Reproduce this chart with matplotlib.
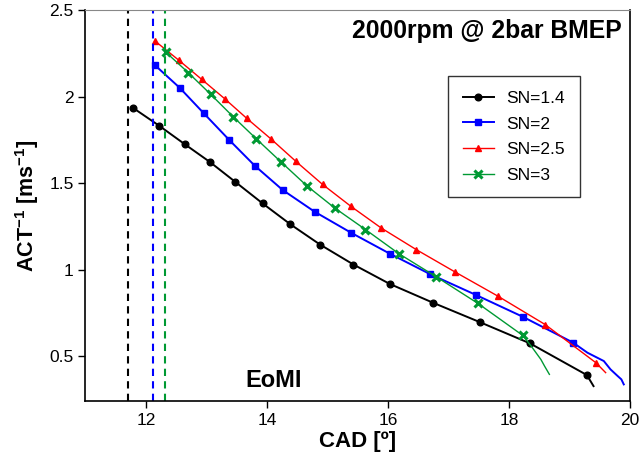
import matplotlib
matplotlib.use("Agg")
import matplotlib.pyplot as plt
import numpy as np

# data (CAD [deg], ACT^-1 [ms^-1])
sn14_x = [11.78, 12.22, 12.64, 13.06, 13.48, 13.93, 14.39, 14.88, 15.43, 16.03, 16.74, 17.52, 18.35, 19.29]
sn14_y = [1.936, 1.831, 1.725, 1.621, 1.506, 1.382, 1.261, 1.144, 1.029, 0.917, 0.809, 0.696, 0.573, 0.390]
sn14_tail_x = [19.35, 19.40]
sn14_tail_y = [0.355, 0.326]

sn2_x = [12.15, 12.56, 12.96, 13.38, 13.80, 14.26, 14.79, 15.39, 16.03, 16.70, 17.45, 18.23, 19.06]
sn2_y = [2.181, 2.050, 1.902, 1.748, 1.600, 1.460, 1.334, 1.213, 1.092, 0.973, 0.854, 0.727, 0.578]
sn2_tail_x = [19.30, 19.57, 19.68, 19.80, 19.86, 19.90]
sn2_tail_y = [0.519, 0.471, 0.423, 0.384, 0.365, 0.336]

sn25_x = [12.15, 12.54, 12.92, 13.30, 13.67, 14.07, 14.48, 14.92, 15.39, 15.89, 16.47, 17.11, 17.82, 18.60, 19.44]
sn25_y = [2.321, 2.211, 2.100, 1.988, 1.873, 1.754, 1.625, 1.492, 1.365, 1.240, 1.115, 0.986, 0.846, 0.682, 0.461]
sn25_tail_x = [19.60]
sn25_tail_y = [0.404]

sn3_x = [12.33, 12.70, 13.07, 13.44, 13.82, 14.23, 14.66, 15.12, 15.63, 16.18, 16.80, 17.49, 18.23]
sn3_y = [2.256, 2.138, 2.013, 1.884, 1.757, 1.623, 1.484, 1.356, 1.231, 1.092, 0.958, 0.804, 0.619]
sn3_tail_x = [18.37, 18.53, 18.59, 18.67]
sn3_tail_y = [0.557, 0.480, 0.442, 0.394]

# end of mixture injection (EoMI) per SN
eomi_x = [11.71, 12.11, 12.32]
eomi_colors = ["black", "#0000ff", "#009933"]

plt.rcParams["font.family"] = ["Liberation Sans", "DejaVu Sans"]
plt.rcParams["mathtext.fontset"] = "custom"
plt.rcParams["mathtext.rm"] = "Liberation Sans"
plt.rcParams["mathtext.bf"] = "Liberation Sans:bold"

fig = plt.figure(figsize=(6.44, 4.70), dpi=100)
ax = fig.add_axes([0.1326, 0.1468, 0.978 - 0.1326, 0.9787 - 0.1468])

series = [
    (sn14_x, sn14_y, sn14_tail_x, sn14_tail_y, "black", "o", 4.8, 1.4, "SN=1.4"),
    (sn2_x, sn2_y, sn2_tail_x, sn2_tail_y, "#0000ff", "s", 4.5, 1.4, "SN=2"),
    (sn25_x, sn25_y, sn25_tail_x, sn25_tail_y, "#ff0000", "^", 5, 1.0, "SN=2.5"),
    (sn3_x, sn3_y, sn3_tail_x, sn3_tail_y, "#009933", "x", 6, 1.0, "SN=3"),
]

for xs, ys, tx, ty, col, mk, ms, lw, lab in series:
    ax.plot(list(xs) + list(tx), list(ys) + list(ty), color=col, lw=lw,
            marker=mk, ms=ms, mew=2.2 if mk == "x" else 1,
            markevery=list(range(len(xs))), label=lab)

for xv, col in zip(eomi_x, eomi_colors):
    ax.axvline(xv, color=col, lw=1.5, ls=(0, (3.5, 2.5)))

ax.set_xlim(11, 20)
ax.set_ylim(0.24, 2.5)
ax.set_xticks([12, 14, 16, 18, 20])
ax.set_xticklabels(["12", "14", "16", "18", "20"])
ax.set_yticks([0.5, 1, 1.5, 2, 2.5])
ax.set_yticklabels(["0.5", "1", "1.5", "2", "2.5"])
ax.tick_params(direction="out", length=5, width=1, labelsize=12.5, top=False, right=False)

ax.spines["top"].set_color("#888888")
for s in ["left", "bottom", "right"]:
    ax.spines[s].set_color("black")
    ax.spines[s].set_linewidth(1.2)

ax.set_xlabel("CAD [º]", fontsize=16, fontweight="bold", labelpad=2)
ax.set_ylabel(r"ACT$^{\mathbf{-1}}$ [ms$^{\mathbf{-1}}$]", fontsize=15.5,
              fontweight="bold", labelpad=6)

ax.text(0.985, 0.928, "2000rpm @ 2bar BMEP", transform=ax.transAxes,
        ha="right", va="baseline", fontsize=17.8, fontweight="bold")
ax.text(14.11, 0.319, "EoMI", ha="center", va="baseline", fontsize=17, fontweight="bold")

leg = ax.legend(loc="upper left", bbox_to_anchor=(0.666, 0.831), borderaxespad=0,
                fontsize=12.5, frameon=True, fancybox=False, edgecolor="black",
                handlelength=1.8, handletextpad=0.7, labelspacing=0.6, borderpad=0.85)
leg.get_frame().set_linewidth(1.0)

fig.savefig("out.png", dpi=100)
